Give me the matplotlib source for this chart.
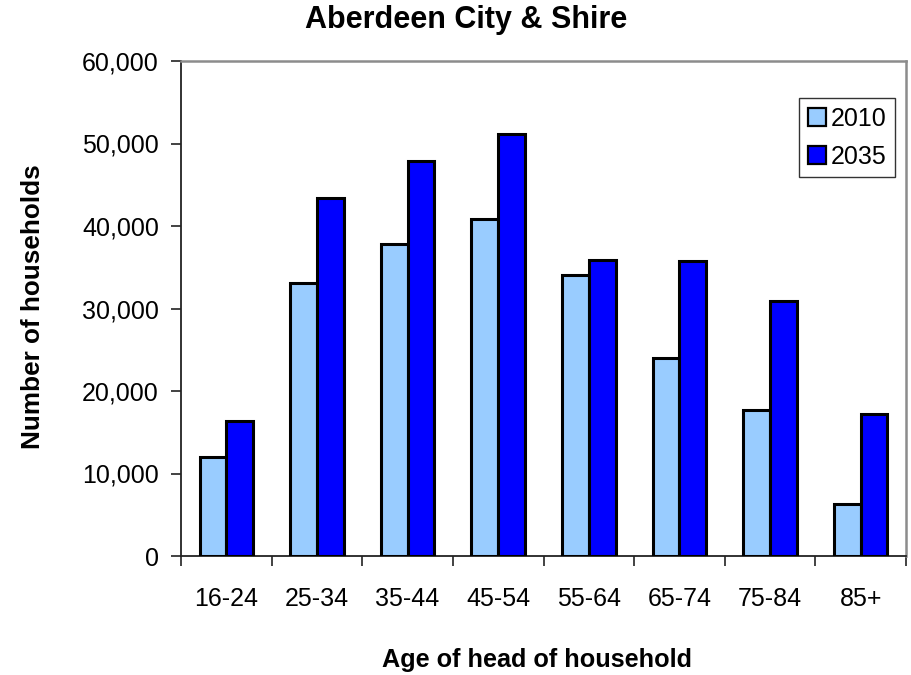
import numpy as np
import matplotlib
matplotlib.use("Agg")
import matplotlib.pyplot as plt
from matplotlib.ticker import FuncFormatter

plt.rcParams['font.family'] = ['Liberation Sans', 'DejaVu Sans']

# --- datos ---
grupos_edad = ["16-24", "25-34", "35-44", "45-54", "55-64", "65-74", "75-84", "85+"]
hogares_2010 = [12000, 33100, 37800, 40800, 34100, 24000, 17700, 6300]
hogares_2035 = [16400, 43400, 47900, 51200, 35900, 35800, 30900, 17200]
series = ["2010", "2035"]

fig = plt.figure(figsize=(9.11, 6.75), dpi=100)
ax = fig.add_axes([181 / 911, 1 - 556 / 675, 725 / 911, 495 / 675])

x = np.arange(len(grupos_edad))
ancho = 0.295
ax.bar(x - ancho / 2, hogares_2010, ancho, color="#99CCFF", edgecolor="black",
       linewidth=2.2, label=series[0], zorder=3)
ax.bar(x + ancho / 2, hogares_2035, ancho, color="#0000FF", edgecolor="black",
       linewidth=2.2, label=series[1], zorder=3)

ax.set_xlim(-0.5, len(grupos_edad) - 0.5)
ax.set_ylim(0, 60000)
ax.set_yticks(np.arange(0, 60001, 10000))
ax.yaxis.set_major_formatter(FuncFormatter(lambda v, p: f"{int(v):,}"))

# etiquetas en el centro, marcas entre categorias
ax.set_xticks(x)
ax.set_xticklabels(grupos_edad)
ax.set_xticks(np.arange(-0.5, len(grupos_edad)), minor=True)
ax.tick_params(axis="x", which="major", length=0, pad=22, labelsize=18)
ax.tick_params(axis="x", which="minor", length=7, width=1.2, color="#222222")
ax.tick_params(axis="y", length=7, width=1.2, pad=9, labelsize=18, color="#222222")

for lado in ["left", "bottom"]:
    ax.spines[lado].set_color("#222222")
    ax.spines[lado].set_linewidth(1.3)
for lado in ["top", "right"]:
    ax.spines[lado].set_color("#8c8c8c")
    ax.spines[lado].set_linewidth(1.8)

fig.text(466 / 911, 1 - 20 / 675, "Aberdeen City & Shire", ha="center", va="center",
         fontsize=22, fontweight="bold")
fig.text(33 / 911, 1 - 307 / 675, "Number of households", ha="center", va="center",
         rotation=90, fontsize=18.8, fontweight="bold")
fig.text(537 / 911, 1 - 660 / 675, "Age of head of household", ha="center", va="center",
         fontsize=18.2, fontweight="bold")

leg = ax.legend(loc="upper right", bbox_to_anchor=(895 / 911, 1 - 98 / 675),
                bbox_transform=fig.transFigure, fontsize=18, frameon=True,
                fancybox=False, edgecolor="#333333", framealpha=1,
                handlelength=0.7, handleheight=0.7, handletextpad=0.2,
                borderpad=0.35, labelspacing=0.55, borderaxespad=0)
leg.get_frame().set_linewidth(1.0)
for h in leg.legend_handles:
    h.set_linewidth(1.6)

fig.savefig("out.png", dpi=100)
